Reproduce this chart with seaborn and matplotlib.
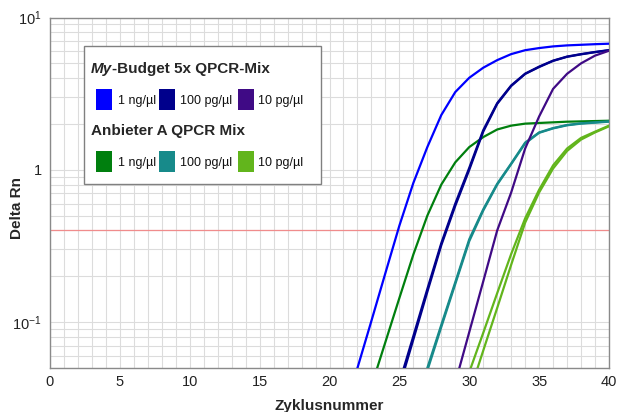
import numpy as np
import pandas as pd
import matplotlib
matplotlib.use("Agg")
import matplotlib.pyplot as plt
import seaborn as sns
from matplotlib.patches import Rectangle
from matplotlib.ticker import LogLocator, NullFormatter, FixedLocator

# ---------------- data ----------------
cyc_mb_1ng = list(range(21, 41))
rn_mb_1ng = [0.0244, 0.050, 0.102, 0.21, 0.43, 0.82, 1.41, 2.29, 3.24, 4.02,
             4.68, 5.25, 5.75, 6.10, 6.30, 6.46, 6.56, 6.62, 6.68, 6.73]

cyc_mb_100pg = list(range(24, 41))
rn_mb_100pg_a = [0.018, 0.0376, 0.077, 0.158, 0.32, 0.58, 1.0, 1.78, 2.71, 3.55,
                 4.26, 4.73, 5.19, 5.52, 5.73, 5.92, 6.09]
rn_mb_100pg_b = [0.019, 0.040, 0.081, 0.165, 0.33, 0.60, 1.03, 1.82, 2.74, 3.58,
                 4.28, 4.76, 5.21, 5.54, 5.75, 5.94, 6.11]

cyc_mb_10pg = list(range(28, 41))
rn_mb_10pg = [0.018, 0.040, 0.086, 0.185, 0.40, 0.71, 1.38, 2.24, 3.40, 4.27,
              5.00, 5.62, 6.05]

cyc_an_1ng = list(range(22, 41))
rn_an_1ng = [0.020, 0.038, 0.074, 0.144, 0.278, 0.50, 0.80, 1.12, 1.41, 1.64,
             1.84, 1.95, 2.01, 2.03, 2.05, 2.07, 2.08, 2.09, 2.10]

cyc_an_100pg = list(range(26, 41))
rn_an_100pg_a = [0.026, 0.050, 0.096, 0.183, 0.35, 0.55, 0.81, 1.10, 1.51, 1.76,
                 1.88, 1.97, 2.02, 2.05, 2.08]
rn_an_100pg_b = [0.025, 0.048, 0.093, 0.178, 0.34, 0.54, 0.80, 1.09, 1.49, 1.75,
                 1.87, 1.96, 2.01, 2.04, 2.07]

cyc_an_10pg = list(range(29, 41))
rn_an_10pg_a = [0.026, 0.047, 0.085, 0.155, 0.28, 0.48, 0.74, 1.07, 1.38, 1.62,
                1.78, 1.95]
rn_an_10pg_b = [0.018, 0.034, 0.065, 0.124, 0.238, 0.45, 0.71, 1.02, 1.33, 1.58,
                1.76, 1.93]

threshold = 0.4

group_titles = ["My-Budget 5x QPCR-Mix", "Anbieter A QPCR Mix"]
conc_labels = ["1 ng/µl", "100 pg/µl", "10 pg/µl"]
colors_mb = ["#0000FF", "#00008C", "#3F0A85"]
colors_an = ["#007F0E", "#178A8A", "#62B51C"]

x_ticks = [0, 5, 10, 15, 20, 25, 30, 35, 40]
y_ticks = [0.1, 1, 10]
y_ticklabels = [r"$\mathregular{10^{-1}}$", "1", r"$\mathregular{10^{1}}$"]

# ---------------- long table ----------------
series = [
    ("an_1ng", "a", cyc_an_1ng, rn_an_1ng),
    ("an_100pg", "a", cyc_an_100pg, rn_an_100pg_a),
    ("an_100pg", "b", cyc_an_100pg, rn_an_100pg_b),
    ("an_10pg", "a", cyc_an_10pg, rn_an_10pg_a),
    ("an_10pg", "b", cyc_an_10pg, rn_an_10pg_b),
    ("mb_1ng", "a", cyc_mb_1ng, rn_mb_1ng),
    ("mb_100pg", "a", cyc_mb_100pg, rn_mb_100pg_a),
    ("mb_100pg", "b", cyc_mb_100pg, rn_mb_100pg_b),
    ("mb_10pg", "a", cyc_mb_10pg, rn_mb_10pg),
]
rows = []
for name, rep, cx, cy in series:
    for c, v in zip(cx, cy):
        rows.append({"sample": name, "rep": rep, "cycle": c, "rn": v})
df = pd.DataFrame(rows)
palette = {
    "an_1ng": colors_an[0], "an_100pg": colors_an[1], "an_10pg": colors_an[2],
    "mb_1ng": colors_mb[0], "mb_100pg": colors_mb[1], "mb_10pg": colors_mb[2],
}

# ---------------- style ----------------
sns.set_style("white")
plt.rcParams["font.family"] = ["Liberation Sans", "DejaVu Sans"]
plt.rcParams["mathtext.fontset"] = "custom"
plt.rcParams["mathtext.rm"] = "Liberation Sans"
plt.rcParams["mathtext.it"] = "Liberation Sans:italic"
plt.rcParams["mathtext.bf"] = "Liberation Sans:bold"

W, H = 618, 412
fig = plt.figure(figsize=(W / 100, H / 100), dpi=100)
ax = fig.add_axes([50 / W, 1 - 368 / H, (609 - 50) / W, (368 - 17.5) / H])

ax.set_yscale("log")
ax.set_xlim(0, 40)
ax.set_ylim(0.05, 10)

sns.lineplot(data=df, x="cycle", y="rn", hue="sample", units="rep",
             estimator=None, palette=palette, legend=False, lw=1.6,
             sort=True, ax=ax, zorder=3)

ax.axhline(threshold, color="#F08C8C", lw=0.9, zorder=2)

ax.set_xticks(x_ticks)
ax.xaxis.set_minor_locator(FixedLocator(list(range(0, 41))))
ax.set_yticks(y_ticks)
ax.set_yticklabels(y_ticklabels)
ax.yaxis.set_minor_locator(LogLocator(base=10, subs=np.arange(2, 10)))
ax.yaxis.set_minor_formatter(NullFormatter())
ax.grid(True, which="both", color="#DCDCDC", lw=0.8, zorder=0)
ax.set_axisbelow(True)
ax.tick_params(axis="both", which="both", length=0, labelsize=10.5,
               colors="#222222")
ax.tick_params(axis="x", pad=5)
ax.tick_params(axis="y", pad=6)
for s in ax.spines.values():
    s.set_color("#8A8A8A")
    s.set_linewidth(1.0)

ax.set_xlabel("Zyklusnummer", fontsize=11, fontweight="bold", labelpad=7)
ax.set_ylabel("Delta Rn", fontsize=11, fontweight="bold")
ax.yaxis.set_label_coords(-(50 - 24) / (609 - 50), (368 - 208) / (368 - 17.5))

# ---------------- legend (manual) ----------------
def fx(x):
    return x / W

def fy(y):
    return 1 - y / H

box = Rectangle((fx(84), fy(184)), (321 - 84) / W, (184 - 46) / H,
                transform=fig.transFigure, facecolor="white",
                edgecolor="#808080", lw=1.0, zorder=5)
fig.add_artist(box)

t_my = fig.text(fx(91), fy(72.7), "My", fontsize=11, fontweight="bold",
                fontstyle="italic", va="baseline", ha="left", zorder=6)
fig.canvas.draw()
x_end = t_my.get_window_extent(fig.canvas.get_renderer()).x1
fig.text(x_end / W, fy(72.7), group_titles[0][2:], fontsize=11,
         fontweight="bold", va="baseline", ha="left", zorder=6)
fig.text(fx(91), fy(135), group_titles[1], fontsize=11, fontweight="bold",
         va="baseline", ha="left", zorder=6)

patch_x = [96, 159, 238]
label_x = [118, 180, 258]
rows_y = [(89.3, 110, 104), (150.7, 171.7, 166)]
for (top, bot, base), cols in zip(rows_y, [colors_mb, colors_an]):
    for px_, lx, col, lab in zip(patch_x, label_x, cols, conc_labels):
        r = Rectangle((fx(px_), fy(bot)), 16 / W, (bot - top) / H,
                      transform=fig.transFigure, facecolor=col,
                      edgecolor="none", zorder=6)
        fig.add_artist(r)
        fig.text(fx(lx), fy(base), lab, fontsize=9, va="baseline",
                 ha="left", color="#111111", zorder=6)

fig.savefig("out.png", dpi=100)
